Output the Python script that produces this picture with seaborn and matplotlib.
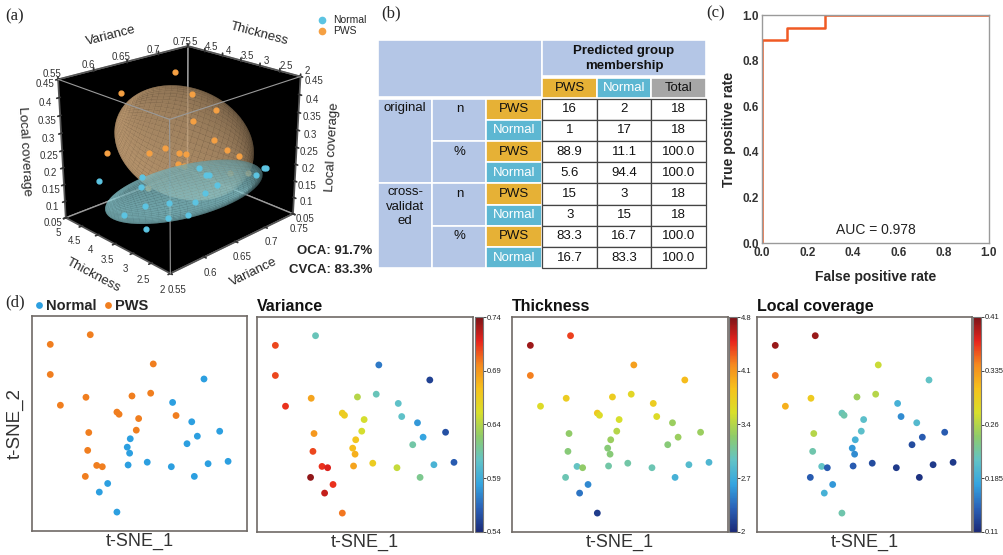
import numpy as np
import pandas as pd
import matplotlib
matplotlib.use('Agg')
import matplotlib.pyplot as plt
import seaborn as sns
from matplotlib.colors import LinearSegmentedColormap, Normalize
from matplotlib.patches import Rectangle
from matplotlib.lines import Line2D
import matplotlib.cm as cm

# ---------------- data ----------------
groups = ['PWS'] * 18 + ['Normal'] * 18
tsne1_pws = [8.5, 27.1, 8.5, 56.4, 13.2, 25.1, 46.5, 55.2, 39.5, 40.5, 49.6, 67.0, 26.4, 48.5, 25.9, 30.1, 32.7, 24.8]
tsne2_pws = [86.8, 91.3, 72.8, 77.7, 58.5, 62.2, 62.8, 64.1, 55.3, 54.3, 52.3, 53.7, 45.8, 46.9, 37.5, 30.5, 29.9, 25.4]
tsne1_normal = [80.0, 65.4, 74.3, 87.3, 76.9, 72.1, 45.7, 44.3, 45.4, 44.7, 53.6, 64.8, 81.9, 91.2, 75.5, 35.2, 31.3, 39.5]
tsne2_normal = [70.7, 59.8, 50.8, 46.4, 44.1, 40.6, 42.9, 39.0, 36.2, 30.7, 32.0, 29.9, 31.3, 32.4, 25.4, 22.1, 18.1, 8.8]

variance_pws = [0.71, 0.61, 0.71, 0.57, 0.715, 0.685, 0.64, 0.61, 0.665, 0.665, 0.65, 0.605, 0.69, 0.65, 0.71, 0.715, 0.72, 0.735]
variance_normal = [0.55, 0.605, 0.58, 0.555, 0.585, 0.615, 0.67, 0.675, 0.68, 0.685, 0.665, 0.645, 0.595, 0.56, 0.62, 0.715, 0.725, 0.70]
thickness_pws = [4.7, 4.4, 4.2, 4.05, 3.6, 3.75, 3.75, 3.65, 3.8, 3.6, 3.55, 3.6, 3.25, 3.4, 3.2, 2.95, 3.25, 3.0]
thickness_normal = [3.9, 3.75, 3.3, 3.3, 3.3, 3.2, 3.3, 3.2, 3.2, 3.05, 3.05, 3.0, 2.85, 2.8, 2.75, 2.5, 2.4, 2.1]
coverage_pws = [0.40, 0.40, 0.35, 0.27, 0.32, 0.30, 0.25, 0.26, 0.215, 0.22, 0.205, 0.165, 0.26, 0.205, 0.22, 0.21, 0.14, 0.14]
coverage_normal = [0.21, 0.19, 0.20, 0.14, 0.14, 0.13, 0.19, 0.17, 0.165, 0.14, 0.13, 0.12, 0.12, 0.12, 0.115, 0.17, 0.19, 0.22]

cbar_ticks_variance = [0.54, 0.59, 0.64, 0.69, 0.74]
cbar_ticks_thickness = [2, 2.7, 3.4, 4.1, 4.8]
cbar_ticks_coverage = [0.11, 0.185, 0.26, 0.335, 0.41]

# ROC
roc_fpr = [0.0, 0.0, 0.111, 0.111, 0.278, 0.278, 1.0]
roc_tpr = [0.0, 0.889, 0.889, 0.944, 0.944, 1.0, 1.0]
auc_value = 0.978

# classification table
row_groups = ['original', 'cross-\nvalidat\ned']
row_stats = ['n', '%']
row_classes = ['PWS', 'Normal']
pred_cols = ['PWS', 'Normal', 'Total']
table_values = [
    ['16', '2', '18'], ['1', '17', '18'], ['88.9', '11.1', '100.0'], ['5.6', '94.4', '100.0'],
    ['15', '3', '18'], ['3', '15', '18'], ['83.3', '16.7', '100.0'], ['16.7', '83.3', '100.0'],
]
oca_text = 'OCA: 91.7%'
cvca_text = 'CVCA: 83.3%'

df = pd.DataFrame({
    'group': groups,
    'tsne1': tsne1_pws + tsne1_normal,
    'tsne2': tsne2_pws + tsne2_normal,
    'Variance': variance_pws + variance_normal,
    'Thickness': thickness_pws + thickness_normal,
    'Local coverage': coverage_pws + coverage_normal,
})

# ---------------- styling ----------------
sns.set_theme(style='white')
plt.rcParams['font.family'] = ['Liberation Sans', 'DejaVu Sans']
W, H = 1004, 555
fig = plt.figure(figsize=(W / 100, H / 100), dpi=100)


def rect(x0, y0, x1, y1):
    return [x0 / W, 1 - y1 / H, (x1 - x0) / W, (y1 - y0) / H]


serif = ['Liberation Serif', 'DejaVu Serif']
fig.text(5 / W, 1 - 16 / H, '(a)', family=serif, fontsize=12, va='center')
fig.text(381 / W, 1 - 13 / H, '(b)', family=serif, fontsize=12, va='center')
fig.text(706 / W, 1 - 13 / H, '(c)', family=serif, fontsize=12, va='center')
fig.text(5 / W, 1 - 302 / H, '(d)', family=serif, fontsize=12, va='center')

jet_like = LinearSegmentedColormap.from_list('jetlike', [
    '#1b2a78', '#2a62b8', '#35a5e0', '#62c3c6', '#8fcb6a', '#d9df2a', '#f6c21c',
    '#f58a1f', '#e8241d', '#7a1418'])

# ---------------- (a) 3D ----------------
ax3 = fig.add_axes(rect(0, 8, 352, 298), projection='3d')
ax3.set_proj_type('persp', focal_length=0.55)
ax3.view_init(elev=22, azim=-134)
ax3.set_box_aspect((1.12, 1.0, 0.95), zoom=0.93)
ax3.set_facecolor('none')
col_normal3 = '#5cc4e2'
col_pws3 = '#f5a043'

xl, yl, zl = (0.55, 0.75), (2, 5), (0.05, 0.45)


def ellipsoid(x, y, z, scale):
    pts = np.vstack([x, y, z]).astype(float)
    rng = np.array([[xl[1] - xl[0]], [yl[1] - yl[0]], [zl[1] - zl[0]]])
    nrm = pts / rng
    m = nrm.mean(axis=1)
    C = np.cov(nrm)
    vals, vecs = np.linalg.eigh(C)
    u = np.linspace(0, 2 * np.pi, 60)
    v = np.linspace(0, np.pi, 36)
    sph = np.stack([np.outer(np.cos(u), np.sin(v)), np.outer(np.sin(u), np.sin(v)),
                    np.outer(np.ones_like(u), np.cos(v))])
    A = vecs @ np.diag(np.sqrt(np.maximum(vals, 1e-9))) * scale
    E = np.einsum('ij,jkl->ikl', A, sph) + m[:, None, None]
    return E * rng[:, :, None]


Ep = ellipsoid(variance_pws, thickness_pws, coverage_pws, 1.8)
En = ellipsoid(variance_normal, thickness_normal, coverage_normal, 1.65)
ax3.plot_surface(*Ep, color='#ffcf98', alpha=0.6, linewidth=0, edgecolor='none', shade=True,
                 rcount=60, ccount=36)
ax3.plot_surface(*En, color='#a6f2fa', alpha=0.6, linewidth=0, edgecolor='none', shade=True,
                 rcount=60, ccount=36)
ax3.scatter(variance_pws, thickness_pws, coverage_pws, color=col_pws3, s=12, depthshade=False)
ax3.scatter(variance_normal, thickness_normal, coverage_normal, color=col_normal3, s=12, depthshade=False)
# near box edges (frame)
ecol = '#9a9a9a'
ax3.plot([xl[0], xl[0]], [yl[0], yl[1]], [zl[1], zl[1]], color=ecol, lw=0.8)
ax3.plot([xl[0], xl[1]], [yl[0], yl[0]], [zl[1], zl[1]], color=ecol, lw=0.8)
ax3.plot([xl[0], xl[0]], [yl[0], yl[0]], [zl[0], zl[1]], color=ecol, lw=0.8)
ax3.set_xlim(*xl)
ax3.set_ylim(*yl)
ax3.set_zlim(*zl)
ax3.set_xticks([0.55, 0.6, 0.65, 0.7, 0.75])
ax3.set_yticks([2, 2.5, 3, 3.5, 4, 4.5, 5])
ax3.set_zticks([0.05, 0.1, 0.15, 0.2, 0.25, 0.3, 0.35, 0.4, 0.45])
for axis in (ax3.xaxis, ax3.yaxis, ax3.zaxis):
    axis.set_major_formatter(matplotlib.ticker.FuncFormatter(lambda v, p: f'{v:g}'))
    axis.set_pane_color((0, 0, 0, 1))
    axis.pane.set_edgecolor(ecol)
    axis._axinfo['grid']['linewidth'] = 0
    axis.line.set_color('#555555')
    try:
        axis.set_ticks_position('both')
        axis.set_label_position('both')
    except Exception:
        pass
ax3.grid(False)
ax3.tick_params(labelsize=7, colors='#333333', pad=-2)
ax3.set_xlabel('Variance', fontsize=9.5, labelpad=-4)
ax3.set_ylabel('Thickness', fontsize=9.5, labelpad=-4)
ax3.set_zlabel('Local coverage', fontsize=9.5, labelpad=-4)
# legend for (a)
hl = [Line2D([], [], marker='o', ls='', color=col_normal3, markersize=4.5),
      Line2D([], [], marker='o', ls='', color=col_pws3, markersize=4.5)]
fig.legend(hl, ['Normal', 'PWS'], loc='upper left', bbox_to_anchor=(306 / W, 1 - 10 / H),
           frameon=False, fontsize=7.5, handletextpad=0.1, labelspacing=0.1, borderpad=0)
fig.text(372 / W, 1 - 251 / H, oca_text, ha='right', va='center', fontsize=9.5, fontweight='bold')
fig.text(372 / W, 1 - 270 / H, cvca_text, ha='right', va='center', fontsize=9.5, fontweight='bold')

# ---------------- (b) table ----------------
axt = fig.add_axes(rect(370, 30, 712, 275))
axt.set_xlim(370, 712)
axt.set_ylim(275, 30)
axt.axis('off')
blue_h = '#b4c6e6'
gold = '#e6b136'
teal = '#5db7d2'
grey = '#a6a6a6'
cx = [378.3, 432.3, 486.4, 542.4, 597.0, 651.4, 705.7]
top, pred_bot, sub_top, data_top, data_bot = 40.0, 75.7, 77.8, 98.5, 268.3
rh = (data_bot - data_top) / len(table_values)


def cell(x0, y0, x1, y1, fc, ec='white', lw=1.2, z=1):
    axt.add_patch(Rectangle((x0, y0), x1 - x0, y1 - y0, facecolor=fc, edgecolor=ec, lw=lw, zorder=z))


cell(cx[0], top, cx[3], data_top - 1.5, blue_h)
cell(cx[3], top, cx[6], pred_bot, blue_h)
axt.text((cx[3] + cx[6]) / 2, (top + pred_bot) / 2 + 0.5, 'Predicted group\nmembership', ha='center',
         va='center', fontsize=9.5, fontweight='bold', color='#111111', linespacing=1.3)
for j, name in enumerate(pred_cols):
    fc = [gold, teal, grey][j]
    cell(cx[3 + j], sub_top, cx[4 + j], data_top - 1.0, fc)
    axt.text((cx[3 + j] + cx[4 + j]) / 2, (sub_top + data_top) / 2, name, ha='center', va='center',
             fontsize=9.5, color='white' if name == 'Normal' else '#111111')
for g, gname in enumerate(row_groups):
    y0 = data_top + g * 4 * rh
    cell(cx[0], y0, cx[1], y0 + 4 * rh, blue_h)
    axt.text((cx[0] + cx[1]) / 2, y0 + 3, gname, ha='center', va='top', fontsize=9.5, color='#111111',
             linespacing=1.25)
    for s, sname in enumerate(row_stats):
        ys = y0 + s * 2 * rh
        cell(cx[1], ys, cx[2], ys + 2 * rh, blue_h)
        axt.text((cx[1] + cx[2]) / 2, ys + rh / 2, sname, ha='center', va='center', fontsize=9.5,
                 color='#111111')
        for c, cname in enumerate(row_classes):
            yc = ys + c * rh
            cell(cx[2], yc, cx[3], yc + rh, gold if cname == 'PWS' else teal)
            axt.text((cx[2] + cx[3]) / 2, yc + rh / 2, cname, ha='center', va='center', fontsize=9.5,
                     color='white' if cname == 'Normal' else '#111111')
for r, row in enumerate(table_values):
    yr = data_top + r * rh
    for j, val in enumerate(row):
        cell(cx[3 + j], yr, cx[4 + j], yr + rh, 'white', ec='#444444', lw=0.9, z=2)
        axt.text((cx[3 + j] + cx[4 + j]) / 2, yr + rh / 2, val, ha='center', va='center', fontsize=9.5,
                 color='#111111', zorder=3)

# ---------------- (c) ROC ----------------
axr = fig.add_axes(rect(762, 15, 989, 243))
sns.lineplot(x=roc_fpr, y=roc_tpr, sort=False, estimator=None, ax=axr, color='#f05a24', lw=1.8)
axr.set_xlim(0, 1)
axr.set_ylim(0, 1)
axr.set_xticks(np.arange(0, 1.01, 0.2))
axr.set_yticks(np.arange(0, 1.01, 0.2))
axr.xaxis.set_major_formatter(matplotlib.ticker.FormatStrFormatter('%.1f'))
axr.yaxis.set_major_formatter(matplotlib.ticker.FormatStrFormatter('%.1f'))
axr.tick_params(length=0, labelsize=8.5)
axr.tick_params(axis='x', pad=3)
axr.tick_params(axis='y', pad=2)
for lab in axr.get_xticklabels() + axr.get_yticklabels():
    lab.set_fontweight('bold')
    lab.set_color('#333333')
for sp in axr.spines.values():
    sp.set_color('#9a9a9a')
    sp.set_linewidth(1.0)
axr.set_xlabel('False positive rate', fontsize=10, fontweight='bold', labelpad=8)
axr.set_ylabel('True positive rate', fontsize=10, fontweight='bold', labelpad=5)
axr.text(0.5, 0.055, f'AUC = {auc_value:.3f}', transform=axr.transAxes, ha='center', va='center',
         fontsize=10, color='#222222')

# ---------------- (d) t-SNE panels ----------------
panel_boxes = [(32, 316, 247, 531), (257, 317, 473, 532), (512, 317, 728, 532), (757, 317, 972, 532)]
cbar_boxes = [None, (475, 317, 483, 532), (729, 317, 737, 532), (973, 317, 981, 532)]
features = [None, 'Variance', 'Thickness', 'Local coverage']
cticks = [None, cbar_ticks_variance, cbar_ticks_thickness, cbar_ticks_coverage]
ctick_fmt = [None, '{:.2f}', '{:g}', '{:g}']

for i, box in enumerate(panel_boxes):
    ax = fig.add_axes(rect(*box))
    if features[i] is None:
        sns.scatterplot(data=df, x='tsne1', y='tsne2', hue='group', hue_order=['Normal', 'PWS'],
                        palette={'Normal': '#2c9fe0', 'PWS': '#f07e1f'}, s=24, linewidth=0, ax=ax)
        sns.move_legend(ax, 'lower left', bbox_to_anchor=(0.016, 1.012), ncol=2, frameon=False, title=None,
                        handlelength=0.5, handletextpad=0.2, columnspacing=0.58, borderpad=0,
                        borderaxespad=0, markerscale=1.0, prop={'weight': 'bold', 'size': 10.5})
        ax.set_ylabel('t-SNE_2', fontsize=13.5, color='#333333', labelpad=6)
    else:
        f = features[i]
        vmin, vmax = cticks[i][0], cticks[i][-1]
        norm = Normalize(vmin, vmax)
        sns.scatterplot(data=df, x='tsne1', y='tsne2', hue=f, hue_norm=norm, palette=jet_like,
                        s=24, linewidth=0, ax=ax, legend=False)
        ax.set_title(f, loc='left', fontsize=11.5, fontweight='bold', pad=4, color='#111111')
        ax.set_ylabel('')
        cax = fig.add_axes(rect(*cbar_boxes[i]))
        cb = fig.colorbar(cm.ScalarMappable(norm=norm, cmap=jet_like), cax=cax)
        cb.set_ticks(cticks[i])
        cb.set_ticklabels([ctick_fmt[i].format(t) for t in cticks[i]])
        cb.ax.tick_params(labelsize=5.5, length=2, width=0.6, pad=0.5, colors='#222222')
        cb.outline.set_edgecolor('#777777')
        cb.outline.set_linewidth(0.8)
    ax.set_xlim(0, 100)
    ax.set_ylim(0, 100)
    ax.set_xticks([])
    ax.set_yticks([])
    ax.set_xlabel('t-SNE_1', fontsize=13, color='#333333', labelpad=1)
    for sp in ax.spines.values():
        sp.set_color('#6f6a66')
        sp.set_linewidth(1.2)

fig.savefig('out.png', dpi=100)
